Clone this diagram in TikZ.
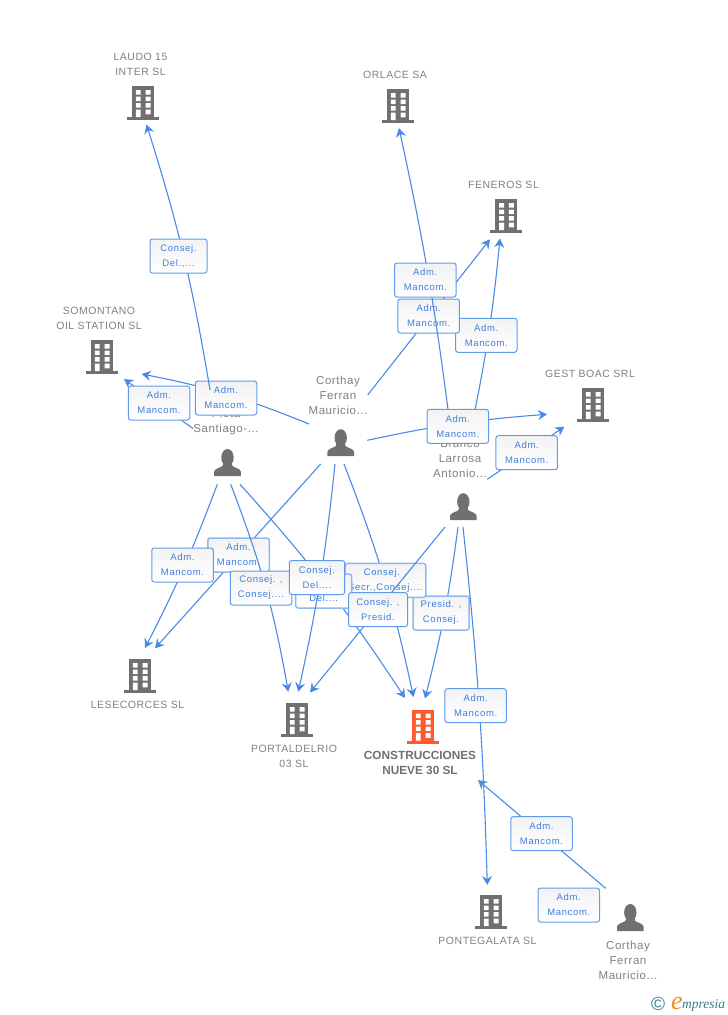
\documentclass[tikz,border=0pt]{standalone}
\usepackage{fontspec}
\setmainfont{Liberation Sans}
\newfontfamily\lblfont[LetterSpace=7]{Liberation Sans}
\newfontfamily\namefont[LetterSpace=5]{Liberation Sans}
\newfontfamily\logofont{Liberation Serif}
\usetikzlibrary{calc,arrows.meta}
\definecolor{linkblue}{HTML}{4A8AE6}
\definecolor{lbltext}{HTML}{3F7FDC}
\definecolor{lblframe}{HTML}{5E9BEA}
\definecolor{lblpale}{HTML}{8DB8F0}
\definecolor{icongray}{HTML}{707070}
\definecolor{namegray}{HTML}{808080}
\definecolor{mainred}{HTML}{FF5A2B}
\definecolor{logoteal}{HTML}{2F7F93}
\definecolor{logoorange}{HTML}{F08A1D}
\tikzset{
	building/.pic={
		\fill (-11,-17) rectangle (11,14);
		\fill (-16,14) rectangle (16,17);
		\fill[white] (-7.2,-13) rectangle (-2.3,-8.5) (2.5,-13) rectangle (7.5,-8.5);
		\fill[white] (-7.2,-6.4) rectangle (-2.3,-1.9) (2.5,-6.4) rectangle (7.5,-1.9);
		\fill[white] (-7.2,0.2) rectangle (-2.3,4.7) (2.5,0.2) rectangle (7.5,4.7);
		\fill[white] (-7.2,6.7) rectangle (-2.3,14) (2.5,6.7) rectangle (7.5,11.3);
	},
	person/.pic={
		\fill (0,-5) ellipse (6.2 and 8.5);
		\fill (-13.3,13.5) -- (-13.3,9) .. controls (-12.5,6) and (-8,5.5) .. (-5,3.5) -- (-4,0) -- (4,0) -- (5,3.5) .. controls (8,5.5) and (12.5,6) .. (13.3,9) -- (13.3,13.5) -- cycle;
	}
}
\begin{document}
\begin{tikzpicture}[x=1pt,y=-1pt]
	\tikzstyle{link}=[linkblue,line width=1.1pt,-{Stealth[length=9pt,width=10pt,inset=3pt]}]
	\tikzstyle{lbl}=[draw=lblframe,line width=1pt,rounded corners=2.5pt,top color=black!5,bottom color=white,text=lbltext,align=center,inner sep=0pt,minimum width=61.5pt,minimum height=34pt,font=\lblfont\fontsize{9.5}{15}\selectfont]
	\tikzstyle{lblb}=[lbl,draw=lblpale,line width=1.5pt]
	\tikzstyle{spot}=[inner sep=0pt,minimum size=0pt]
	\tikzstyle{coname}=[text=namegray,align=center,inner sep=0pt,font=\namefont\fontsize{10.5}{15}\selectfont]
	\tikzstyle{pername}=[text=namegray,align=center,inner sep=0pt,font=\namefont\fontsize{11.5}{15}\selectfont]
	\useasboundingbox (0,0) rectangle (728,1015);

	\node (bLaudo) [spot] at (143,103) {};
	\node (bOrlace) [spot] at (398,106) {};
	\node (bFeneros) [spot] at (506.4,216) {};
	\node (bSomontano) [spot] at (102,357) {};
	\node (bGest) [spot] at (593,405) {};
	\node (bLesecorces) [spot] at (140,676) {};
	\node (bPortal) [spot] at (297,720) {};
	\node (bConstr) [spot] at (423,726.5) {};
	\node (bPontegalata) [spot] at (491,912) {};
	\node (pPieta) [spot] at (227.5,462.5) {};
	\node (pCorthay) [spot] at (340.7,442.7) {};
	\node (pBranco) [spot] at (463.3,506.7) {};
	\node (pCorthayB) [spot] at (630.3,917.5) {};

	\pic[icongray] at (bLaudo) {building};
	\pic[icongray] at (bOrlace) {building};
	\pic[icongray] at (bFeneros) {building};
	\pic[icongray] at (bSomontano) {building};
	\pic[icongray] at (bGest) {building};
	\pic[icongray] at (bLesecorces) {building};
	\pic[icongray] at (bPortal) {building};
	\pic[mainred] at (bConstr) {building};
	\pic[icongray] at (bPontegalata) {building};
	\pic[icongray] at (pPieta) {person};
	\pic[icongray] at (pCorthay) {person};
	\pic[icongray] at (pBranco) {person};
	\pic[icongray] at (pCorthayB) {person};

	\node (nLaudo) [coname] at (140.5,64.5) {LAUDO 15\\INTER SL};
	\node (nOrlace) [coname] at (395,75) {ORLACE SA};
	\node (nFeneros) [coname] at (503.5,185) {FENEROS SL};
	\node (nSomontano) [coname] at (99,318.5) {SOMONTANO\\OIL STATION SL};
	\node (nGest) [coname] at (590,374) {GEST BOAC SRL};
	\node (nLesecorces) [coname] at (137.5,705) {LESECORCES SL};
	\node (nPortal) [coname] at (294,756.5) {PORTALDELRIO\\03 SL};
	\node (nConstr) [coname,text=icongray,font=\bfseries\fontsize{11.8}{15}\selectfont] at (420,762.5) {CONSTRUCCIONES\\NUEVE 30 SL};
	\node (nPontegalata) [coname] at (487.5,941) {PONTEGALATA SL};
	\node (nPieta) [pername] at (226,422.5) {Pieta\\Santiago-...};
	\node (nCorthay) [pername] at (338,395) {Corthay\\Ferran\\Mauricio...};
	\node (nBranco) [pername] at (460,459) {Branco\\Larrosa\\Antonio...};
	\node (nCorthayB) [pername] at (628,960) {Corthay\\Ferran\\Mauricio...};

	\draw [link] ($(pCorthay)+(-31.7,-18.7)$) to[bend right=5.5] ($(bSomontano)+(39.7,17)$);
	\node (lSomontanoA) [lbl] at (226,398) {Adm.\\Mancom.};
	\draw [link] ($(pPieta)+(-17.5,-72.5)$) to[bend right=4] ($(bLaudo)+(3.5,21.5)$);
	\node (lLaudo) [lbl,minimum width=57pt] at (178.5,256) {Consej.\\Del.,...};
	\draw [link] ($(pPieta)+(-34.5,-34)$) -- ($(bSomontano)+(22,22)$);
	\node (lSomontanoB) [lbl] at (159,403) {Adm.\\Mancom.};

	\draw [link] ($(pCorthay)+(-20,21.3)$) -- ($(bLesecorces)+(15,-27.7)$);
	\node (lLesecorcesB) [lblb] at (238.5,555) {Adm.\\Mancom.};
	\draw [link] ($(pPieta)+(-10.2,21.8)$) to[bend left=3.3] ($(bLesecorces)+(5,-28)$);
	\node (lLesecorcesA) [lbl] at (182.5,565) {Adm.\\Mancom.};
	\draw [link] ($(pPieta)+(3.2,21.8)$) to[bend left=5.4] ($(bPortal)+(-8.7,-28.3)$);
	\node (lPortalA) [lbl] at (261,588) {Consej. ,\\Consej....};

	\draw [link] ($(pBranco)+(-5.3,20.3)$) to[bend left=3.4] ($(bConstr)+(2,-28)$);
	\node (lConstrC) [lblb,minimum width=56pt] at (441,613) {Presid. ,\\Consej.};
	\draw [link] ($(pCorthay)+(3.3,21.3)$) to[bend left=4.5] ($(bConstr)+(-9.5,-29.5)$);
	\node (lConstrB) [lblb,minimum width=80.7pt] at (385.4,580.3) {Consej. ,\\Secr.,Consej....};
	\draw [link] ($(pPieta)+(12.5,21.8)$) to[bend left=4.3] ($(bConstr)+(-18,-28.5)$);
	\node (lConstrA) [lblb,minimum width=56pt] at (323.7,591) {Consej.\\Del....};
	\draw [link] ($(pCorthay)+(-5.7,21.3)$) to[bend left=3.2] ($(bPortal)+(1.3,-28.3)$);
	\node (lPortalB) [lbl,minimum width=55.4pt] at (317,577.5) {Consej.\\Del....};
	\draw [link] ($(pBranco)+(-18.3,20.3)$) -- ($(bPortal)+(13,-27.5)$);
	\node (lPortalC) [lbl,minimum width=59pt] at (378,609.7) {Consej. ,\\Presid.};

	\draw [link] ($(pBranco)+(-0.3,20.3)$) to[bend left=2.2] ($(bPontegalata)+(-3.7,-27)$);
	\node (lPontegalataA) [lbl] at (475.7,705.7) {Adm.\\Mancom.};
	\draw [link] ($(pCorthayB)+(-24.6,-29.2)$) -- ($(bPontegalata)+(-13,-132)$);
	\node (lPontegalataB) [lbl] at (541.5,833.7) {Adm.\\Mancom.};
	\node (lPontegalataC) [lbl] at (568.8,905) {Adm.\\Mancom.};

	\draw [link] ($(pBranco)+(8.7,-81.7)$) to[bend right=3] ($(bFeneros)+(-6.4,22.5)$);
	\node (lFenerosB) [lbl] at (486.3,335.3) {Adm.\\Mancom.};
	\draw [link] ($(pCorthay)+(27,-47.7)$) -- ($(bFeneros)+(-16.4,23.3)$);
	\node (lFenerosA) [lbl] at (428.7,316) {Adm.\\Mancom.};
	\draw [link] ($(pBranco)+(-13.3,-81.7)$) to[bend right=2.5] ($(bOrlace)+(1,22)$);
	\node (lOrlace) [lbl] at (425.3,280) {Adm.\\Mancom.};
	\draw [link] ($(pCorthay)+(26.6,-2.4)$) to[bend left=3.9] ($(bGest)+(-46,9.3)$);
	\node (lGestA) [lbl] at (457.8,426.3) {Adm.\\Mancom.};
	\draw [link] ($(pBranco)+(24,-27.4)$) -- ($(bGest)+(-28.7,21.7)$);
	\node (lGestB) [lbl] at (526.7,452.7) {Adm.\\Mancom.};

	\node (cLogo) [text=logoteal,inner sep=0pt,font=\fontsize{19}{19}\selectfont] at (658,1003.5) {\copyright};
	\node (eLogo) [text=logoorange,inner sep=0pt,anchor=base west,font=\logofont\itshape\fontsize{26}{26}\selectfont] at (671,1009) {e};
	\node (tLogo) [text=logoteal,inner sep=0pt,anchor=base west,font=\logofont\itshape\fontsize{13.5}{13.5}\selectfont] at (682,1008) {mpresia};
\end{tikzpicture}
\end{document}
